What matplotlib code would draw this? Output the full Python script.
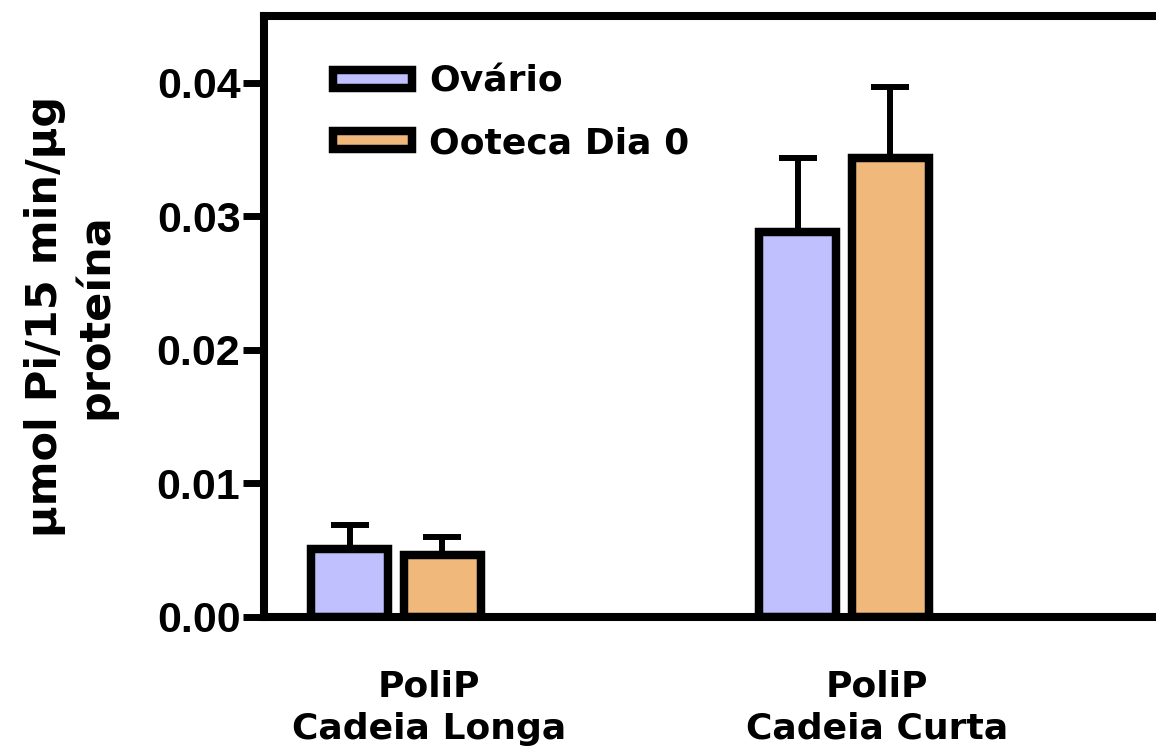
import numpy as np
import matplotlib
matplotlib.use("Agg")
import matplotlib.pyplot as plt

# data
groups = ["PoliP\nCadeia Longa", "PoliP\nCadeia Curta"]
series = ["Ovário", "Ooteca Dia 0"]
ovario = [0.0051, 0.0288]
ovario_err = [0.0018, 0.0056]
ooteca = [0.00465, 0.0344]
ooteca_err = [0.00135, 0.0053]
yticks = [0.00, 0.01, 0.02, 0.03, 0.04]

colors = ["#C0C0FF", "#F0B87A"]

W, H = 1156, 751
fig = plt.figure(figsize=(W / 100, H / 100), dpi=100)
# axes runs past the right edge like in the original
ax = fig.add_axes([264 / W, (H - 617) / H, 936 / W, 601 / H])

x = np.array([1.427, 6.27])
off = 0.5
bw = 0.83

lw = 6.1
for i, (vals, errs) in enumerate([(ovario, ovario_err), (ooteca, ooteca_err)]):
    xs = x + (i * 2 - 1) * off
    ax.errorbar(xs, vals, yerr=[np.zeros(len(errs)), errs], fmt="none",
                ecolor="black", elinewidth=4.3, capsize=14, capthick=4.3,
                zorder=1)
    ax.bar(xs, vals, width=bw, color=colors[i], edgecolor="black",
           linewidth=lw, label=series[i], zorder=2)

ax.set_xlim(0, 936 / 92.5)
ax.set_ylim(0, 0.045)

ax.spines["right"].set_visible(False)
for s in ["left", "top", "bottom"]:
    ax.spines[s].set_linewidth(5.8)
    ax.spines[s].set_capstyle("projecting")

ax.set_yticks(yticks)
ax.set_yticklabels([f"{v:.2f}" for v in yticks])
ax.tick_params(axis="y", length=15, width=5, pad=2, direction="out")
for t in ax.get_yticklabels():
    t.set_fontfamily("Liberation Sans")
    t.set_fontweight("bold")
    t.set_fontsize(31)

ax.set_xticks(x + 0.36)
ax.set_xticklabels(groups, fontfamily="DejaVu Sans", fontweight="bold",
                   fontsize=26, linespacing=1.3)
ax.tick_params(axis="x", length=0, pad=38)

fig.text(70 / W, 1 - 316 / H, "μmol Pi/15 min/μg\nproteína", rotation=90,
         ha="center", va="center", multialignment="center",
         fontfamily="DejaVu Sans", fontweight="bold", fontsize=31)

ax.legend(loc="upper left", bbox_to_anchor=(333 / W, 1 - 65 / H),
          bbox_transform=fig.transFigure, frameon=False,
          prop={"family": "DejaVu Sans", "weight": "bold", "size": 26},
          handlelength=2.2, handleheight=0.4, handletextpad=0.47,
          labelspacing=0.75, borderpad=0, borderaxespad=0)

fig.savefig("out.png", dpi=100)
